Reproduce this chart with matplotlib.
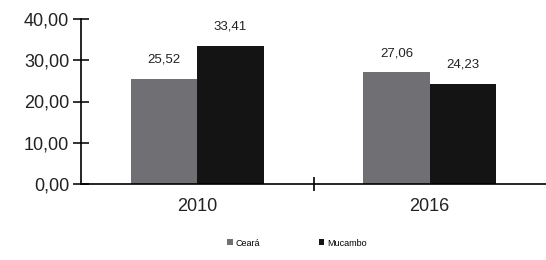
import matplotlib.pyplot as plt
import numpy as np

plt.rcParams['font.family'] = ['Liberation Sans', 'DejaVu Sans']

# dados
anos = ['2010', '2016']
series = ['Ceará', 'Mucambo']
ceara = [25.52, 27.06]
mucambo = [33.41, 24.23]
cores = ['#6f6f74', '#141414']

fig = plt.figure(figsize=(5.46, 2.6), dpi=100)
ax = fig.add_axes([81 / 546, 76 / 260, 465 / 546, 165 / 260])

x = np.arange(len(anos))
w = 0.285
valores = [ceara, mucambo]
for i, (nome, vals) in enumerate(zip(series, valores)):
    pos = x + (i - 0.5) * w
    ax.bar(pos, vals, w, color=cores[i], label=nome)
    for p, v in zip(pos, vals):
        ax.text(p, v + 3.2, f"{v:.2f}".replace('.', ','), ha='center', va='bottom',
                fontsize=9.5, color='#222222')

ax.set_xlim(-0.5, 1.5)
ax.set_ylim(0, 40)
ax.set_yticks([0, 10, 20, 30, 40])
ax.set_yticklabels([f"{t:.2f}".replace('.', ',') for t in [0, 10, 20, 30, 40]])
ax.set_xticks(x)
ax.set_xticklabels(anos)
ax.set_xticks([0.5], minor=True)

for s in ['top', 'right']:
    ax.spines[s].set_visible(False)
ax.spines['left'].set_linewidth(1.2)
ax.spines['bottom'].set_linewidth(1.2)
ax.tick_params(axis='y', direction='inout', length=11, width=1.2, labelsize=13,
               pad=3, colors='#111111', labelcolor='#222222')
ax.tick_params(axis='x', which='major', length=0, labelsize=13, pad=10, labelcolor='#222222')
ax.tick_params(axis='x', which='minor', direction='inout', length=10, width=1.2)

leg = fig.legend(loc='center', bbox_to_anchor=(297 / 546, 1 - 243 / 260), ncol=2,
                 frameon=False, fontsize=6.5, handlelength=0.6, handleheight=0.6,
                 handletextpad=0.3, columnspacing=6.5)

plt.savefig('out.png', dpi=100)
